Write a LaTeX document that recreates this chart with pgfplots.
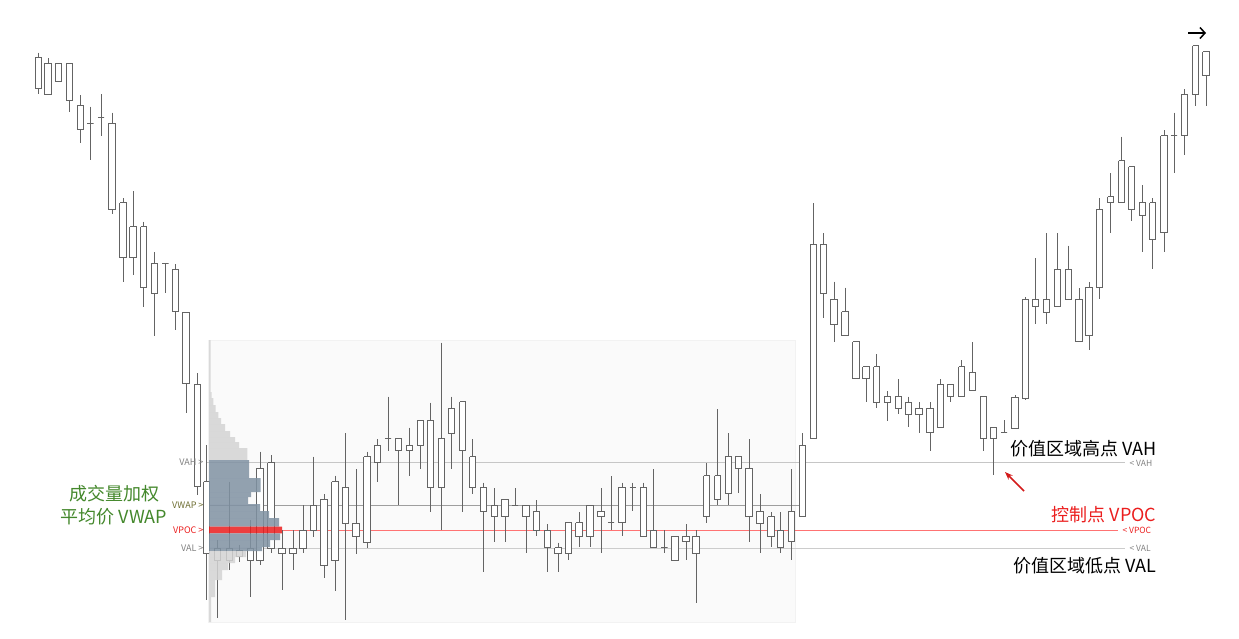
\documentclass[border=0pt]{standalone}
\usepackage{pgfplots}
\pgfplotsset{compat=1.18}
\usetikzlibrary{arrows.meta}
\usepackage{fontspec}
\setmainfont{Noto Sans CJK SC}
\definecolor{cdlcol}{RGB}{100,100,100}
\definecolor{profgray}{RGB}{212,212,212}
\definecolor{profblue}{RGB}{128,146,163}
\definecolor{vwapgreen}{RGB}{68,136,44}
\definecolor{vwapolive}{RGB}{110,110,50}
\definecolor{pocred}{RGB}{235,30,30}
\begin{document}
\begin{tikzpicture}
\begin{axis}[scale only axis, width=1239pt, height=638pt,
  xmin=0, xmax=1239, ymin=0, ymax=638, y dir=reverse,
  axis lines=none, clip=false,
  cdl/.style={draw=cdlcol, line width=1pt, mark=none, forget plot}]
% range background
\addplot[fill=gray!4, draw=gray!10, mark=none] coordinates {(208,340)(795,340)(795,622)(208,622)(208,340)};
% reference lines
\addplot[gray!45, line width=0.8pt, mark=none] coordinates {(206,462.5)(1125,462.5)};
\addplot[black!38, line width=0.8pt, mark=none] coordinates {(206,505)(802,505)};
\addplot[red!55, line width=0.8pt, mark=none] coordinates {(282,530)(1118,530)};
\addplot[gray!40, line width=0.8pt, mark=none] coordinates {(206,548)(1125,548)};
% candles: x / body top / body bottom / wick top / wick bottom (pixel rows)
\foreach \x/\bt/\bb/\wt/\wb in {
38.3/57.3/88.3/52.7/94, 48/63.3/94.3/58.3/94.3, 58.7/63.3/81/63.3/81, 69.3/63.3/100/63.3/111.7,
80.3/105.7/129.3/95/142.7, 90.3/123.3/123.3/106.7/160, 101/117.7/117.7/94.3/135.7, 112/123.3/209.3/112.7/214.3,
123/202.7/257.3/198.3/281.7, 133/226.7/257.3/191/275, 143.7/226.7/287.3/221.7/306.7, 154.7/263.3/293.3/252.3/336,
165.3/263.3/263.3/263.3/293.3, 175.3/269.3/311.7/264.3/330, 186/312.3/383.3/312.3/413.3, 197.3/384.3/486.7/373.3/495,
206.7/481.7/553.3/445/600, 217.3/548.3/560/540/618, 229.3/548.3/560/481.7/570, 239.3/550/556/545/562,
250.3/548.3/560/520/596.7, 260/468/560/451.7/565, 271/462.7/548.3/455/553.3, 282/548/553/530/590,
293/548/553/530/570, 303/530/548.3/505/553.3, 313.3/505/530/456.7/536.7, 324/499.3/565.7/494/578.3,
335/481.7/560/475.7/590.7, 345.3/487.3/523.3/433.3/620, 356/523.3/536/469.3/554, 367/456.7/542/451.7/548.3,
377.3/445/462.7/439.3/481.7, 388/438.7/438.7/396.7/450.7, 398.3/438.7/450.7/438.7/505, 409.3/445/450.7/427.7/475.7,
420.3/420.7/445/420.7/469.3, 430.3/420.7/487.3/402.7/511.7, 441.3/438.7/487.3/342.7/530, 451.7/408.3/433.3/396.7/469.3,
462.7/401.7/450.7/401.7/511.7, 472.7/456.7/487.3/439.3/494, 483.3/487.3/511/482.7/571.7, 494.3/505/516.7/488.3/541.7,
505/499/516.7/499/541.7, 515/505/505/488.3/506, 526/505/516.7/505/553.3, 536.7/511/530/500/536,
547.3/530/547.3/524/571.7, 558/547.7/553.3/542.7/571.7, 568.3/522.7/553.3/522.7/560, 579/522.7/536/512.3/547.3,
590/505/536/505/547.3, 601/511/516.7/488.3/553.3, 611/522.7/522.7/476/530, 622/487.3/522.7/482.7/536,
632.7/487.3/487.3/482.7/511, 643.3/487.3/536/482.7/536, 653.3/530/547.3/469.3/547.3, 664.3/547.3/547.3/530/553.3,
675/536/560/536/560, 686/536/541.7/524/560, 696/536/553.3/530/602.7, 706.7/475.7/516.7/463.3/523.3,
717.7/475.7/499/409/505, 728.3/456.7/493.3/433.3/505, 738.3/456.7/468.3/456.7/493.3, 749/468.3/516.7/439.3/541.7,
760/511/523.3/494.3/553.3, 771/516.7/536/512.3/547.3, 780.7/530/547.3/512.3/553.3, 791.7/511/541.7/469.3/560,
802.5/445/516.7/433.3/516.7, 813.3/244.3/438.3/203.3/438.3, 823.3/244.3/293.3/233.3/318.3, 834/299/324/281.7/341.7,
845/311.7/335.7/287.7/335.7, 856/341.7/378.3/341.7/378.3, 866/366.7/378.3/366.7/402.3, 876.7/366.7/402.3/354/408.3,
887.3/396/402.3/391/421, 898.3/396/408.3/379/414.3, 908.3/402.3/414.3/396.7/427.3, 919/408.3/414.3/402.3/433.3,
930/408.3/432.7/402.3/451, 940.7/384.3/427.3/379/427.3, 950.7/384.3/396/384.3/402.3, 961.7/366.7/396/360/396,
972.3/372.3/390/342.3/390, 983.3/396/438.3/396/451, 993.3/427.3/438.3/427.3/475, 1004/432.7/432.7/420/432.7,
1015/397/428/395/428, 1025.7/299/398/297/400, 1035.7/299/306/258.3/324, 1046.7/299/312.3/233.3/324,
1057.3/269.3/306/233.3/306, 1068.3/269.3/299/245.7/299, 1079/299/341.7/288.3/341.7, 1089/287.3/335.7/282.3/350,
1099.3/209/287.3/198.3/299, 1110.7/196.7/202.7/173.3/233.3, 1121.7/160.7/202.7/136.7/202.7, 1131.7/166.7/209.3/166.7/221,
1142.3/202.7/215/185/251.7, 1152.7/202.7/239/198.3/269.3, 1164/135.7/232.7/130/251.7, 1174/135.7/135.7/112.7/172.7,
1184.3/94/135.7/89/155, 1195.7/45.7/94/45.7/106, 1206/51.7/75/51.7/106}{
  \pgfmathsetmacro\xl{\x-3.2}\pgfmathsetmacro\xr{\x+3.2}
  \edef\tmp{\noexpand\addplot[cdl] coordinates {(\x,\wt)(\x,\wb)};
    \noexpand\addplot[cdl, fill=white] coordinates {(\xl,\bt)(\xr,\bt)(\xr,\bb)(\xl,\bb)(\xl,\bt)};}
  \tmp
}
% volume profile rows: top / bottom / right edge / colour
\foreach \a/\b/\r/\c in {
340/392/210.5/profgray, 392/398/211.7/profgray, 398/405/213.3/profgray, 405/412/215.7/profgray,
412/418/218.3/profgray, 418/424/221/profgray, 424/431/225/profgray, 431/437/230/profgray,
437/442/235/profgray, 442/448/239/profgray, 448/460/247.3/profgray,
460/478/249/profblue, 478/492/260.5/profblue, 492/497/251/profblue, 497/504/248/profblue,
504/511/260/profblue, 511/518/269/profblue, 518/526.7/279/profblue, 526.7/533.3/282/pocred,
533.3/540/280/profblue, 540/547/270/profblue, 547/551/262/profblue,
551/557/246/profgray, 557/563/235/profgray, 563/570/228/profgray, 570/580/222/profgray,
580/597/215/profgray, 597/622/211/profgray}{
  \edef\tmp{\noexpand\addplot[fill=\c, fill opacity=0.85, draw=none, mark=none, forget plot]
    coordinates {(209,\a)(\r,\a)(\r,\b)(209,\b)(209,\a)};}
  \tmp
}
% left labels
\node[anchor=east, font=\fontsize{9}{10}\selectfont, text=gray] at (axis cs:207,462.5) {VAH >};
\node[anchor=east, font=\fontsize{9}{10}\selectfont, text=vwapolive] at (axis cs:207,505) {VWAP >};
\node[anchor=east, font=\fontsize{9}{10}\selectfont, text=pocred] at (axis cs:207,530) {VPOC >};
\node[anchor=east, font=\fontsize{9}{10}\selectfont, text=gray] at (axis cs:207,548) {VAL >};
\node[align=center, font=\fontsize{18}{23}\selectfont, text=vwapgreen] at (axis cs:114,505.5) {成交量加权\\平均价 VWAP};
% right labels
\node[anchor=west, font=\fontsize{8.5}{10}\selectfont, text=gray] at (axis cs:1126,463) {< VAH};
\node[anchor=west, font=\fontsize{8.5}{10}\selectfont, text=pocred] at (axis cs:1119,530) {< VPOC};
\node[anchor=west, font=\fontsize{8.5}{10}\selectfont, text=gray] at (axis cs:1126,548) {< VAL};
\node[anchor=east, font=\fontsize{18}{20}\selectfont] at (axis cs:1160,449) {价值区域高点 VAH};
\node[anchor=east, font=\fontsize{18}{20}\selectfont, text=pocred] at (axis cs:1160,515) {控制点 VPOC};
\node[anchor=east, font=\fontsize{18}{20}\selectfont] at (axis cs:1160,565.5) {价值区域低点 VAL};
% arrows
\draw[-{Stealth[length=8pt,width=6pt]}, color=pocred!90!black, line width=1.6pt] (axis cs:1024,491) -- (axis cs:1005,472);
\draw[-{Straight Barb[length=5pt,width=11pt]}, line width=1.5pt] (axis cs:1188,33) -- (axis cs:1206,33);
\end{axis}
\pgfresetboundingbox
\path (current axis.south west) rectangle (current axis.north east);
\end{tikzpicture}
\end{document}
